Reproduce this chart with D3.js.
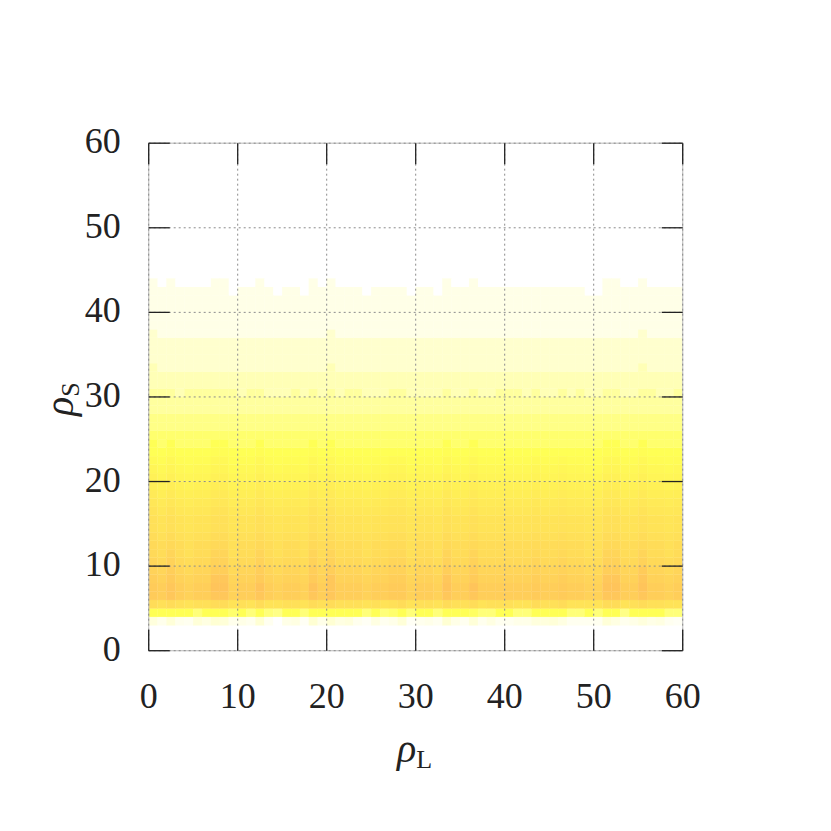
<!DOCTYPE html>
<html>
<head>
<meta charset="utf-8">
<script src="https://cdn.jsdelivr.net/npm/d3@7"></script>
<style>
  html, body { margin: 0; background: #fff; }
  svg { display: block; }
  text { font-family: "Liberation Serif", serif; fill: #222; }
  .grid line { stroke: #8c8c8c; stroke-width: 1; stroke-dasharray: 2 3; }
  .ticks line { stroke: #222; stroke-width: 1.3; }
  .domain { display: none; }
</style>
</head>
<body>
<svg width="831" height="831"></svg>
<script>
const axisTicks = [0, 10, 20, 30, 40, 50, 60];
const firstRho = 3; // levels[0] is the row rho_S = 3..4

// colour level per cell, bottom row first (60 columns each)
const levels = [
  /* 3 */ [1.4,.8,1.6,.8,.6,1.6,1.2,1.8,1.6,.8, 1,.7,1.8,.6,0,1,1.2,.4,1.8,.9, 1.8,1.2,1.4,.7,.4,1.2,.6,.9,1.6,.4, .7,.9,.6,1.8,1,.6,1.6,.7,1.2,.6, .6,.9,.9,1.4,1.4,1.6,1.2,.6,.6,.6, .6,1.6,1.2,.7,1,1.4,1,1.2,.6,.4],
  /* 4 */ [7,7,7,7,7,5.5,7,7,7,6, 7,5.5,7,5.5,5,7,7,5.5,7,7, 7,7,7,7,5.5,7,5.5,6,7,5.5, 7,7,5.5,7,7,7,6.5,5.5,5.5,7, 7,5.5,5.5,7,7,7,7,5.5,5.5,7, 5.5,7,7,5,7,7,7,7,5.5,5.5],
  /* 5 */ [17,16,17,16,15,16,16,17,17,15, 16,15,17,15,15,16,16,15,17,16, 17,16,16,16,15,16,15,16,17,15, 16,16,15,17,16,16,17,15,16,16, 16,15,15,17,16,16,17,15,15,15, 15,17,17,15,16,17,16,16,15,15],
  /* 6 */ [22,21,23,21,20,21,21,23,23,20, 21,21,23,21,20,21,21,20,23,21, 23,21,21,21,20,21,21,22,22,20, 21,21,20,23,21,21,23,21,21,21, 21,21,21,22,21,21,22,21,21,20, 20,23,23,21,21,23,21,21,20,21],
  /* 7 */ [22,21,23,21,20,21,21,24,24,20, 21,21,24,21,20,21,21,20,24,21, 23,21,21,21,20,21,21,22,22,20, 21,21,20,24,21,21,24,21,21,21, 21,21,21,22,21,21,22,21,21,20, 20,24,24,21,21,24,21,21,20,21],
  /* 8 */ [21,20,22,20,19,20,20,23,23,19, 20,20,22,20,19,20,20,19,22,20, 23,20,20,20,19,20,20,21,21,19, 20,20,19,23,20,20,22,20,20,20, 20,20,20,21,20,20,21,20,20,19, 19,23,23,20,20,23,20,20,19,20],
  /* 9 */ [20,19,21,19,18,19,19,21,21,18, 19,19,21,19,18,19,19,18,21,19, 21,19,19,19,18,19,19,20,20,18, 19,19,18,21,19,19,21,19,19,19, 19,19,19,20,19,19,20,19,19,18, 18,21,21,19,19,22,19,19,18,19],
  /* 10 */ [19,18,20,18,17,18,18,20,20,17, 18,18,20,18,17,18,18,17,20,18, 20,18,18,18,17,18,18,19,19,17, 18,18,17,20,18,18,20,18,18,18, 18,18,18,19,18,18,19,18,18,17, 17,20,20,18,18,20,18,18,17,18],
  /* 11 */ [18,17,19,17,16,17,17,19,19,16, 17,17,19,17,16,17,17,16,19,17, 19,17,17,17,16,17,17,18,18,16, 17,17,16,19,17,17,19,17,17,17, 17,17,17,18,17,17,18,17,17,16, 16,19,19,17,17,19,17,17,16,17],
  /* 12 */ [18,17,18,17,16,17,17,18,18,16, 17,17,18,17,16,17,17,16,18,17, 18,17,17,17,16,17,17,17.5,17.5,16, 17,17,16,18,17,17,18,17,17,17, 17,17,17,17.5,17,17,17.5,17,17,16, 16,18,18,17,17,18,17,17,16,17],
  /* 13 */ [17,16,17,16,15.5,16,16,17,17,15.5, 16,16,17,16,15.5,16,16,15.5,17,16, 17,16,16,16,15.5,16,16,16.5,16.5,15.5, 16,16,15.5,17,16,16,17,16,16,16, 16,16,16,16.5,16,16,16.5,16,16,15.5, 15.5,17,17,16,16,17,16,16,15.5,16],
  /* 14 */ [16,15,16,15,14.5,15,15,16,16,14.5, 15,15,16,15,14.5,15,15,14.5,16,15, 16,15,15,15,14.5,15,15,15.5,15.5,14.5, 15,15,14.5,16,15,15,16,15,15,15, 15,15,15,15.5,15,15,15.5,15,15,14.5, 14.5,16,16,15,15,16,15,15,14.5,15],
  /* 15 */ [16,15,16,15,14.5,15,15,16,16,14.5, 15,15,16,15,14.5,15,15,14.5,16,15, 16,15,15,15,14.5,15,15,15.5,15.5,14.5, 15,15,14.5,16,15,15,16,15,15,15, 15,15,15,15.5,15,15,15.5,15,15,14.5, 14.5,16,16,15,15,16,15,15,14.5,15],
  /* 16 */ [15,14,15,14,13.5,14,14,15,15,13.5, 14,14,15,14,13.5,14,14,13.5,15,14, 15,14,14,14,13.5,14,14,14.5,14.5,13.5, 14,14,13.5,15,14,14,15,14,14,14, 14,14,14,14.5,14,14,14.5,14,14,13.5, 13.5,15,15,14,14,15,14,14,13.5,14],
  /* 17 */ [14,13,14,13,12.5,13,13,14,14,12.5, 13,13,14,13,12.5,13,13,12.5,14,13, 14,13,13,13,12.5,13,13,13.5,13.5,12.5, 13,13,12.5,14,13,13,14,13,13,13, 13,13,13,13.5,13,13,13.5,13,13,12.5, 12.5,14,14,13,13,14,13,13,12.5,13],
  /* 18 */ [13,12,13,12,11.5,12,12,13,13,11.5, 12,12,13,12,11.5,12,12,11.5,13,12, 13,12,12,12,11.5,12,12,12.5,12.5,11.5, 12,12,11.5,13,12,12,13,12,12,12, 12,12,12,12.5,12,12,12.5,12,12,11.5, 11.5,13,13,12,12,13,12,12,11.5,12],
  /* 19 */ [12,11,12,11,10.5,11,11,12,12,10.5, 11,11,12,11,10.5,11,11,10.5,12,11, 12,11,11,11,10.5,11,11,11.5,11.5,10.5, 11,11,10.5,12,11,11,12,11,11,11, 11,11,11,11.5,11,11,11.5,11,11,10.5, 10.5,12,12,11,11,12,11,11,10.5,11],
  /* 20 */ [11,10,11,10,9.5,10,10,11,11,9.5, 10,10,11,10,9.5,10,10,9.5,11,10, 11,10,10,10,9.5,10,10,10.5,10.5,9.5, 10,10,9.5,11,10,10,11,10,10,10, 10,10,10,10.5,10,10,10.5,10,10,9.5, 9.5,11,11,10,10,11,10,10,9.5,10],
  /* 21 */ [10,9,10,9,8.5,9,9,10,10,8.5, 9,9,10,9,8.5,9,9,8.5,10,9, 10,9,9,9,8.5,9,9,9.5,9.5,8.5, 9,9,8.5,10,9,9,10,9,9,9, 9,9,9,9.5,9,9,9.5,9,9,8.5, 8.5,10,10,9,9,10,9,9,8.5,9],
  /* 22 */ [8.5,8,9,8,7.5,8,8,9,9,7.5, 8,8,9,8,7.5,8,8,7.5,9,8, 9,8,8,8,7.5,8,8,8.5,8.5,7.5, 8,8,7.5,9,8,8,9,8,8,8, 8,8,8,8.5,8,8,8.5,8,8,7.5, 7.5,9,9,8,8,9,8,8,7.5,8],
  /* 23 */ [7,7,7.5,7,7,7,7,7.5,7.5,7, 7,7,7.5,7,7,7,7,7,7.5,7, 7.5,7,7,7,7,7,7,7,7,7, 7,7,7,7.5,7,7,7.5,7,7,7, 7,7,7,7,7,7,7,7,7,7, 7,7.5,7.5,7,7,7.5,7,7,7,7],
  /* 24 */ [7,6,7,6,6,6,6,7,7,6, 6,6,7,6,6,6,6,6,7,6, 7,6,6,6,6,6,6,6,6,6, 6,6,6,7,6,6,7,6,6,6, 6,6,6,6,6,6,6,6,6,6, 6,7,7,6,6,7,6,6,6,6],
  /* 25 */ [6,6,6,6,6,6,6,6,6,6, 6,6,6,6,6,6,6,6,6,6, 6,6,6,6,6,6,6,6,6,6, 6,6,6,6,6,6,6,6,6,6, 6,6,6,6,6,6,6,6,6,6, 6,6,6,6,6,6,6,6,6,6],
  /* 26 */ [5,5,5,5,5,5,5,5,5,5, 5,5,5,5,5,5,5,5,5,5, 5,5,5,5,5,5,5,5,5,5, 5,5,5,5,5,5,5,5,5,5, 5,5,5,5,5,5,5,5,5,5, 5,5,5,5,5,5,5,5,5,5],
  /* 27 */ [5,5,5,5,5,5,5,5,5,5, 5,5,5,5,5,5,5,5,5,5, 5,5,5,5,5,5,5,5,5,5, 5,5,5,5,5,5,5,5,5,5, 5,5,5,5,5,5,5,5,5,5, 5,5,5,5,5,5,5,5,5,5],
  /* 28 */ [4,4,4,4,4,4,4,4,4,4, 4,4,4,4,4,4,4,4,4,4, 4,4,4,4,4,4,4,4,4,4, 4,4,4,4,4,4,4,4,4,4, 4,4,4,4,4,4,4,4,4,4, 4,4,4,4,4,4,4,4,4,4],
  /* 29 */ [4,4,4,4,4,4,4,4,4,4, 4,4,4,4,4,4,4,4,4,4, 4,4,4,4,4,4,4,4,4,4, 4,4,4,4,4,4,4,4,4,4, 4,4,4,4,4,4,4,4,4,4, 4,4,4,4,4,4,4,4,4,4],
  /* 30 */ [4,4,4,3,4,4,4,4,4,4, 3,4,4,3,3,3,4,3,4,3, 4,3,4,4,3,3,3,4,4,3, 3,3,3,4,3,3,4,3,3,4, 4,4,3,4,3,3,4,3,4,3, 3,4,4,3,3,4,4,3,3,4],
  /* 31 */ [3,3,3,3,3,3,3,3,3,3, 3,3,3,3,3,3,3,3,3,3, 3,3,3,3,3,3,3,3,3,3, 3,3,3,3,3,3,3,3,3,3, 3,3,3,3,3,3,3,3,3,3, 3,3,3,3,3,3,3,3,3,3],
  /* 32 */ [3,3,3,3,3,3,3,3,3,3, 3,3,3,3,3,3,3,3,3,3, 3,3,3,3,3,3,3,3,3,3, 3,3,3,3,3,3,3,3,3,3, 3,3,3,3,3,3,3,3,3,3, 3,3,3,3,3,3,3,3,3,3],
  /* 33 */ [3,2,2,2,2,2,2,2,2,2, 2,2,2,2,2,2,2,2,2,2, 3,2,2,2,2,2,2,2,2,2, 2,2,2,2,2,2,2,2,2,2, 2,2,2,2,2,2,2,2,2,2, 2,2,2,2,2,3,2,2,2,2],
  /* 34 */ [2,2,2,2,2,2,2,2,2,2, 2,2,2,2,2,2,2,2,2,2, 2,2,2,2,2,2,2,2,2,2, 2,2,2,2,2,2,2,2,2,2, 2,2,2,2,2,2,2,2,2,2, 2,2,2,2,2,2,2,2,2,2],
  /* 35 */ [2,2,2,2,2,2,2,2,2,2, 2,2,2,2,2,2,2,2,2,2, 2,2,2,2,2,2,2,2,2,2, 2,2,2,2,2,2,2,2,2,2, 2,2,2,2,2,2,2,2,2,2, 2,2,2,2,2,2,2,2,2,2],
  /* 36 */ [2,2,2,2,2,2,2,2,2,2, 2,2,2,2,2,2,2,2,2,2, 2,2,2,2,2,2,2,2,2,2, 2,2,2,2,2,2,2,2,2,2, 2,2,2,2,2,2,2,2,2,2, 2,2,2,2,2,2,2,2,2,2],
  /* 37 */ [2,1,1,1,1,1,1,1,1,1, 1,1,1,1,1,1,1,1,1,1, 2,1,1,1,1,1,1,1,1,1, 1,1,1,1,1,1,1,1,1,1, 1,1,1,1,1,1,1,1,1,1, 1,1,1,1,1,2,1,1,1,1],
  /* 38 */ [1,1,1,1,1,1,1,1,1,1, 1,1,1,1,1,1,1,1,1,1, 1,1,1,1,1,1,1,1,1,1, 1,1,1,1,1,1,1,1,1,1, 1,1,1,1,1,1,1,1,1,1, 1,1,1,1,1,1,1,1,1,1],
  /* 39 */ [1,1,1,1,1,1,1,1,1,1, 1,1,1,1,1,1,1,1,1,1, 1,1,1,1,1,1,1,1,1,1, 1,1,1,1,1,1,1,1,1,1, 1,1,1,1,1,1,1,1,1,1, 1,1,1,1,1,1,1,1,1,1],
  /* 40 */ [1,1,1,1,1,1,1,1,1,1, 1,1,1,1,1,1,1,1,1,1, 1,1,1,1,1,1,1,1,1,1, 1,1,1,1,1,1,1,1,1,1, 1,1,1,1,1,1,1,1,1,1, 1,1,1,1,1,1,1,1,1,1],
  /* 41 */ [1,1,1,1,1,1,1,1,1,1, 1,1,1,1,1,1,1,1,1,1, 1,1,1,1,1,1,1,1,1,1, 1,1,1,1,1,1,1,1,1,1, 1,1,1,1,1,1,1,1,1,1, 1,1,1,1,1,1,1,1,1,1],
  /* 42 */ [1,1,1,1,1,1,1,1,1,0, 1,1,1,1,0,1,1,0,1,1, 1,1,1,1,0,1,1,1,1,0, 1,1,0,1,1,1,1,1,1,1, 1,1,1,1,1,1,1,1,1,0, 0,1,1,1,1,1,1,1,1,1],
  /* 43 */ [1,0,1,0,0,0,0,1,1,0, 0,0,1,0,0,0,0,0,1,0, 1,0,0,0,0,0,0,0,0,0, 0,0,0,1,0,0,1,0,0,0, 0,0,0,0,0,0,0,0,0,0, 0,1,1,0,0,1,0,0,0,0]
];

const svg = d3.select('svg');

const xScale = d3.scaleLinear().domain([0, 60]).range([148.7, 682.7]);
const yScale = d3.scaleLinear().domain([0, 60]).range([650.7, 143.2]);

// white to yellow over the first levels, then yellow to orange
const colorScale = d3.scaleLinear()
    .domain([0, 7, 24])
    .range(['#ffffff', '#ffff55', '#ffc45a'])
    .clamp(true);

// cells, with a hairline of their own colour so the seams between them stay faint
levels.forEach((row, r) => {
    svg.append('g').selectAll('rect')
        .data(row)
        .enter()
        .append('rect')
        .attr('x', (d, c) => xScale(c))
        .attr('y', yScale(firstRho + r + 1))
        .attr('width', (d, c) => xScale(c + 1) - xScale(c))
        .attr('height', yScale(firstRho + r) - yScale(firstRho + r + 1))
        .attr('fill', d => colorScale(d))
        .attr('stroke', d => d > 0 ? colorScale(d) : 'none')
        .attr('stroke-width', 0.3);
});

// grey border under the dashed grid
svg.append('rect')
    .attr('x', xScale(0))
    .attr('y', yScale(60))
    .attr('width', xScale(60) - xScale(0))
    .attr('height', yScale(0) - yScale(60))
    .attr('fill', 'none')
    .attr('stroke', '#c4c4c4')
    .attr('stroke-width', 1.2);

// dashed grid
const plotW = xScale(60) - xScale(0);
const plotH = yScale(0) - yScale(60);
svg.append('g').attr('class', 'grid')
    .attr('transform', `translate(0,${yScale(0)})`)
    .call(d3.axisBottom(xScale).offset(0).tickValues(axisTicks).tickSize(-plotH).tickFormat(''));
svg.append('g').attr('class', 'grid')
    .attr('transform', `translate(${xScale(0)},0)`)
    .call(d3.axisLeft(yScale).offset(0).tickValues(axisTicks).tickSize(-plotW).tickFormat(''));

// solid inward ticks on all four sides
const tickLen = 21;
const bottomAxis = svg.append('g').attr('class', 'ticks')
    .attr('transform', `translate(0,${yScale(0)})`)
    .call(d3.axisBottom(xScale).offset(0).tickValues(axisTicks).tickSize(-tickLen));
const leftAxis = svg.append('g').attr('class', 'ticks')
    .attr('transform', `translate(${xScale(0)},0)`)
    .call(d3.axisLeft(yScale).offset(0).tickValues(axisTicks).tickSize(-tickLen));
svg.append('g').attr('class', 'ticks')
    .attr('transform', `translate(0,${yScale(60)})`)
    .call(d3.axisTop(xScale).offset(0).tickValues(axisTicks).tickSize(-tickLen).tickFormat(''));
svg.append('g').attr('class', 'ticks')
    .attr('transform', `translate(${xScale(60)},0)`)
    .call(d3.axisRight(yScale).offset(0).tickValues(axisTicks).tickSize(-tickLen).tickFormat(''));

bottomAxis.selectAll('text').style('font-size', '36px').attr('dy', '0').attr('y', 57);
leftAxis.selectAll('text').style('font-size', '36px').attr('dy', '10').attr('x', -28);

// axis names
const xLabel = svg.append('text')
    .attr('x', 397)
    .attr('y', 762);
xLabel.append('tspan').attr('font-style', 'italic').style('font-size', '40px').text('ρ');
xLabel.append('tspan').attr('dy', 6).style('font-size', '26px').text('L');

const yLabel = svg.append('text')
    .attr('transform', 'translate(73,416) rotate(-90)');
yLabel.append('tspan').attr('font-style', 'italic').style('font-size', '40px').text('ρ');
yLabel.append('tspan').attr('dy', 6).style('font-size', '26px').text('S');
</script>
</body>
</html>
